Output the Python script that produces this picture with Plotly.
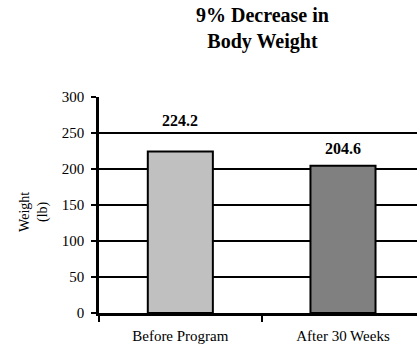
import plotly.graph_objects as go

# Body weight before and after the 30-week program
categories = ["Before Program", "After 30 Weeks"]
weights = [224.2, 204.6]
bar_colors = ["#C0C0C0", "#808080"]
label_shifts = [31, 17]  # vertical offset (px) of each value label above its bar

y_ticks = [0, 50, 100, 150, 200, 250, 300]

SERIF = "Liberation Serif, Times New Roman, serif"

fig = go.Figure()
fig.add_trace(go.Bar(
    x=categories,
    y=weights,
    width=0.4,
    marker=dict(color=bar_colors, line=dict(color="black", width=2)),
    hoverinfo="skip",
))

for cat, w, dy in zip(categories, weights, label_shifts):
    fig.add_annotation(
        x=cat, y=w, xref="x", yref="y",
        text=f"<b>{w:.1f}</b>",
        showarrow=False, yanchor="middle", yshift=dy,
        font=dict(family=SERIF, size=16, color="black"),
    )

# Two-line axis title on the left
fig.add_annotation(
    xref="paper", yref="paper", x=-0.203, y=0.47,
    text="Weight<br>(lb)", textangle=-90, showarrow=False,
    xanchor="center", yanchor="middle",
    font=dict(family=SERIF, size=14, color="black"),
)

# Chart heading, centred over the category span
fig.add_annotation(
    xref="paper", yref="paper", x=0.514, y=1.44,
    text="<b>9% Decrease in<br>Body Weight</b>", showarrow=False,
    xanchor="center", yanchor="top",
    font=dict(family=SERIF, size=20, color="black"),
)

fig.update_layout(
    width=417, height=347,
    margin=dict(l=99, r=0, t=97, b=34),
    paper_bgcolor="white", plot_bgcolor="white",
    showlegend=False,
    xaxis=dict(
        type="category",
        range=[-0.5, 1.455],
        tickson="boundaries",
        ticks="outside", ticklen=6, tickwidth=2, tickcolor="black",
        showline=True, linecolor="black", linewidth=2.5,
        showgrid=False, zeroline=False,
        tickfont=dict(family=SERIF, size=15, color="black"),
        ticklabelstandoff=7,
    ),
    yaxis=dict(
        range=[0, 300],
        tickvals=y_ticks,
        ticks="outside", ticklen=5, tickwidth=2, tickcolor="black",
        showline=True, linecolor="black", linewidth=2.5,
        showgrid=True, gridcolor="black", gridwidth=2,
        zeroline=False,
        tickfont=dict(family=SERIF, size=15, color="black"),
        ticklabelstandoff=4,
    ),
)

fig.write_html("out.html")
